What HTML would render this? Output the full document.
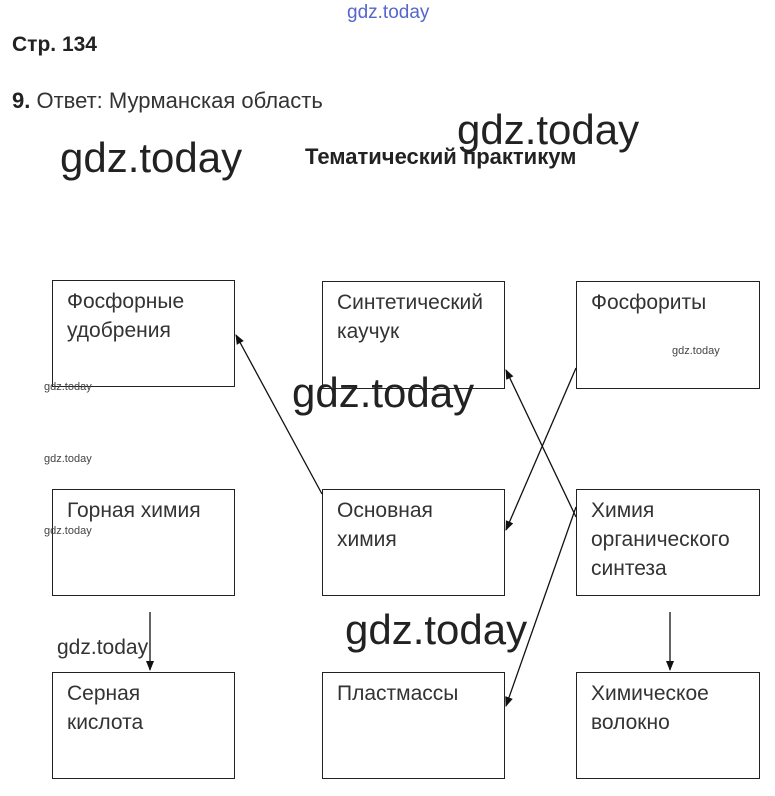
<!DOCTYPE html>
<html><head><meta charset="utf-8"><style>
body{margin:0;width:775px;height:796px;background:#fff;position:relative;font-family:"Liberation Sans",sans-serif;overflow:hidden}
.t{position:absolute;white-space:nowrap}
.b{position:absolute;border:1px solid #222;box-sizing:border-box;font-size:21px;color:#333;line-height:29px;padding:6px 0 0 14px}
.w{position:absolute;color:#222;white-space:nowrap}
</style></head><body>
<div class="t" style="left:347px;top:2px;font-size:19px;color:#5566cc">gdz.today</div>
<div class="t" style="left:12px;top:33px;font-size:21px;font-weight:bold;color:#222">Стр. 134</div>
<div class="t" style="left:12px;top:88px;font-size:22px;color:#333"><b style="color:#222">9.</b> Ответ: Мурманская область</div>
<div class="w" style="left:60px;top:134px;font-size:42px">gdz.today</div>
<div class="w" style="left:457px;top:106px;font-size:42px">gdz.today</div>
<div class="t" style="left:305px;top:144px;font-size:22px;font-weight:bold;color:#222">Тематический практикум</div>

<div class="b" style="left:52px;top:280px;width:183px;height:107px">Фосфорные<br>удобрения</div>
<div class="b" style="left:322px;top:281px;width:183px;height:108px">Синтетический<br>каучук</div>
<div class="b" style="left:576px;top:281px;width:184px;height:108px">Фосфориты</div>
<div class="b" style="left:52px;top:489px;width:183px;height:107px">Горная химия</div>
<div class="b" style="left:322px;top:489px;width:183px;height:107px">Основная<br>химия</div>
<div class="b" style="left:576px;top:489px;width:184px;height:107px">Химия<br>органического<br>синтеза</div>
<div class="b" style="left:52px;top:672px;width:183px;height:107px">Серная<br>кислота</div>
<div class="b" style="left:322px;top:672px;width:183px;height:107px">Пластмассы</div>
<div class="b" style="left:576px;top:672px;width:184px;height:107px">Химическое<br>волокно</div>

<svg style="position:absolute;left:0;top:0" width="775" height="796">
<defs><marker id="a" markerWidth="10" markerHeight="10" refX="9" refY="5" orient="auto" markerUnits="userSpaceOnUse"><path d="M0,1 L10,5 L0,9z" fill="#111"/></marker></defs>
<g stroke="#111" stroke-width="1.3" fill="none" marker-end="url(#a)">
<line x1="322" y1="494" x2="236" y2="335"/>
<line x1="576" y1="517" x2="506" y2="370"/>
<line x1="576" y1="368" x2="506" y2="530"/>
<line x1="576" y1="507" x2="506" y2="706"/>
<line x1="150" y1="612" x2="150" y2="670"/>
<line x1="670" y1="612" x2="670" y2="670"/>
</g></svg>

<div class="w" style="left:672px;top:345px;font-size:11px;color:#444">gdz.today</div>
<div class="w" style="left:44px;top:381px;font-size:11px;color:#444">gdz.today</div>
<div class="w" style="left:44px;top:453px;font-size:11px;color:#444">gdz.today</div>
<div class="w" style="left:44px;top:525px;font-size:11px;color:#444">gdz.today</div>
<div class="w" style="left:292px;top:369px;font-size:42px">gdz.today</div>
<div class="w" style="left:345px;top:606px;font-size:42px">gdz.today</div>
<div class="w" style="left:57px;top:636px;font-size:21px;color:#333">gdz.today</div>
</body></html>
